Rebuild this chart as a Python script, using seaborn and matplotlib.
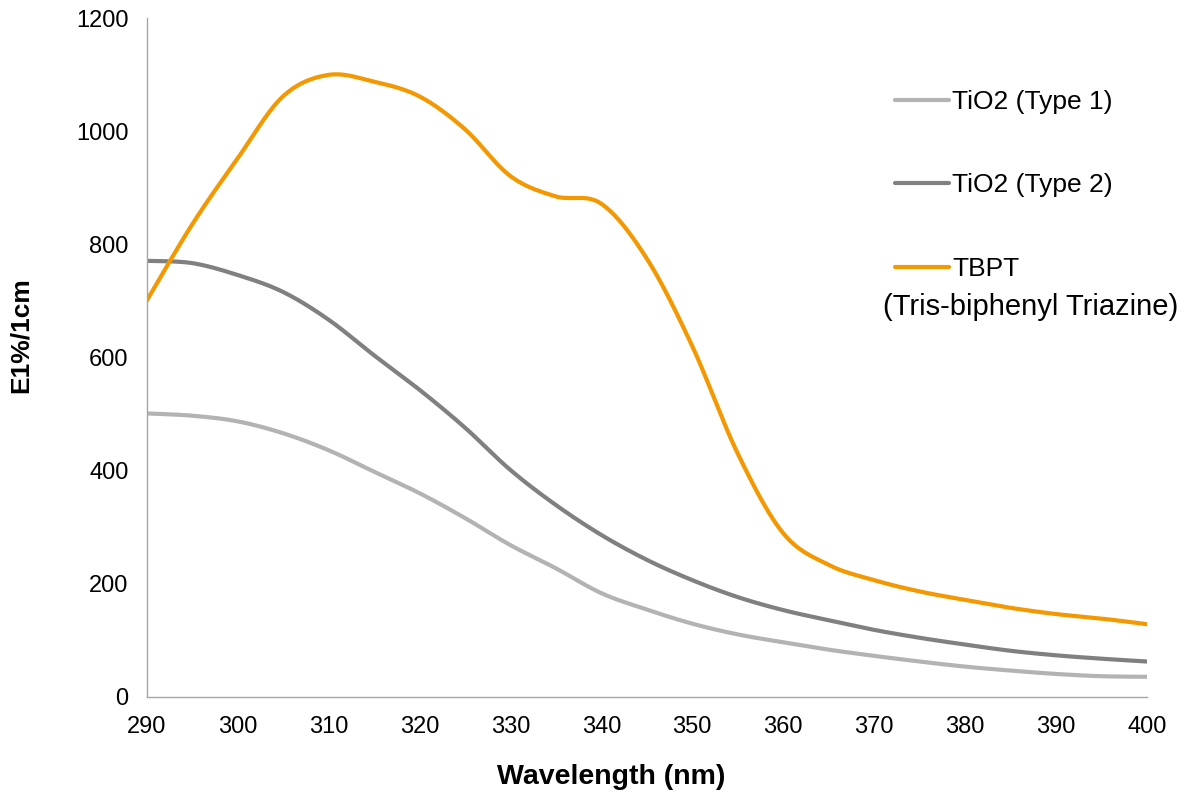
import numpy as np
import pandas as pd
import matplotlib
matplotlib.use("Agg")
import matplotlib.pyplot as plt
import seaborn as sns
from matplotlib.lines import Line2D

wavelength = [290, 295, 300, 305, 310, 315, 320, 325, 330, 335, 340, 345,
              350, 355, 360, 365, 370, 375, 380, 385, 390, 395, 400]
tio2_type1 = [501, 497, 487, 466, 436, 398, 360, 316, 268, 227, 183, 154,
              129, 110, 96, 83, 72, 62, 53, 46, 40, 36, 35]
tio2_type2 = [771, 767, 746, 716, 667, 604, 543, 476, 401, 339, 286, 242,
              206, 176, 153, 135, 118, 104, 92, 81, 73, 67, 62]
tbpt = [700, 835, 952, 1062, 1100, 1088, 1062, 1004, 921, 885, 872, 775,
        620, 430, 289, 233, 206, 186, 171, 157, 146, 138, 128]

series_names = ["TiO2 (Type 1)", "TiO2 (Type 2)", "TBPT"]
series_values = [tio2_type1, tio2_type2, tbpt]
colors = ["#b3b3b3", "#808080", "#f39800"]
x_ticks = list(range(290, 401, 10))
y_ticks = list(range(0, 1201, 200))


def smooth(xs, ys, n=20):
    """Catmull-Rom smoothing (like a spreadsheet 'smoothed line')."""
    P = np.column_stack([xs, ys]).astype(float)
    P = np.vstack([P[0], P, P[-1]])
    out = []
    t = np.linspace(0, 1, n, endpoint=False)[:, None]
    for i in range(1, len(P) - 2):
        p0, p1, p2, p3 = P[i - 1], P[i], P[i + 1], P[i + 2]
        seg = 0.5 * (2 * p1 + (-p0 + p2) * t + (2 * p0 - 5 * p1 + 4 * p2 - p3) * t ** 2
                     + (-p0 + 3 * p1 - 3 * p2 + p3) * t ** 3)
        out.append(seg)
    out.append(P[-2][None, :])
    out = np.vstack(out)
    return out[:, 0], out[:, 1]


sns.set_style("white")
plt.rcParams["font.family"] = ["Liberation Sans", "DejaVu Sans"]
plt.rcParams["text.color"] = "black"
plt.rcParams["axes.labelcolor"] = "black"

fig = plt.figure(figsize=(11.78, 7.99), dpi=100)
ax = fig.add_axes([0.1244, 0.1282, 0.9737 - 0.1244, 0.977 - 0.1282])

frames = []
for name, vals in zip(series_names, series_values):
    sx, sy = smooth(wavelength, vals)
    frames.append(pd.DataFrame({"Wavelength": sx, "Value": sy, "Series": name}))
df = pd.concat(frames, ignore_index=True)

sns.lineplot(data=df, x="Wavelength", y="Value", hue="Series",
             hue_order=series_names, palette=colors, sort=False,
             estimator=None, linewidth=3.0, ax=ax, legend=False)

ax.set_xlim(290, 400)
ax.set_ylim(0, 1200)
ax.set_xticks(x_ticks)
ax.set_yticks(y_ticks)
for s in ["top", "right"]:
    ax.spines[s].set_visible(False)
for s in ["left", "bottom"]:
    ax.spines[s].set_color("#a6a6a6")
    ax.spines[s].set_linewidth(1.0)
ax.tick_params(axis="both", direction="out", length=5, width=1.0,
               color="#a6a6a6", labelsize=17, labelcolor="black", pad=8)
ax.tick_params(axis="x", pad=9)

ax.set_xlabel("Wavelength (nm)", fontsize=20.5, fontweight="bold")
ax.set_ylabel("E1%/1cm", fontsize=19, fontweight="bold")
ax.xaxis.set_label_coords((611.5 - 146.5) / (1147 - 146.5), -(777 - 696.6) / (696.6 - 18.4))
ax.yaxis.set_label_coords(-(146.5 - 21) / (1147 - 146.5), (696.6 - 335) / (696.6 - 18.4))
ax.xaxis.label.set_va("center")
ax.yaxis.label.set_va("center")

# legend
handles = [Line2D([], [], color=c, linewidth=3.0) for c in colors]
leg = ax.legend(handles, series_names, loc="upper left",
                bbox_to_anchor=(895 / 1178, 1 - 90 / 799),
                bbox_transform=fig.transFigure, frameon=False, fontsize=19,
                handlelength=2.05, handletextpad=0.12, labelspacing=2.25,
                borderpad=0, borderaxespad=0)
fig.text(883 / 1178, 1 - 307 / 799, "(Tris-biphenyl Triazine)", fontsize=21,
         ha="left", va="center")

fig.savefig("out.png", dpi=100)
